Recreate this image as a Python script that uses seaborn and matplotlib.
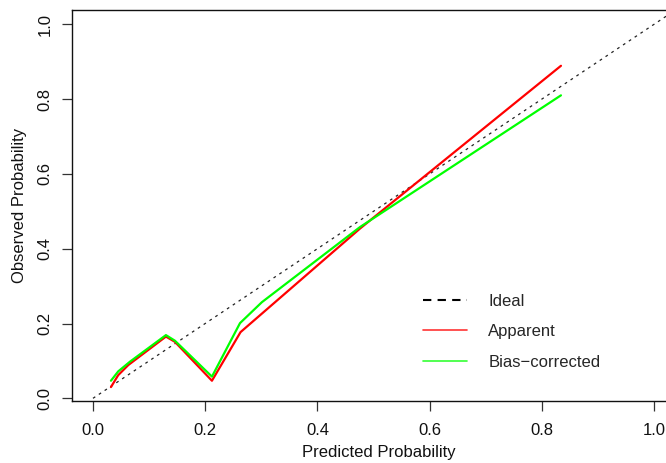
import matplotlib
matplotlib.use('Agg')
import matplotlib.pyplot as plt
from matplotlib.lines import Line2D
import pandas as pd
import seaborn as sns

# calibration curve values
pred_apparent = [0.032, 0.045, 0.063, 0.130, 0.146, 0.212, 0.263, 0.476, 0.834]
obs_apparent = [0.030, 0.062, 0.089, 0.165, 0.151, 0.047, 0.177, 0.454, 0.889]

pred_bias = [0.032, 0.045, 0.066, 0.130, 0.146, 0.212, 0.262, 0.301, 0.422, 0.476, 0.834]
obs_bias = [0.047, 0.072, 0.098, 0.169, 0.154, 0.058, 0.201, 0.257, 0.396, 0.458, 0.810]

ideal = [0.0, 1.1]
ticks = [0.0, 0.2, 0.4, 0.6, 0.8, 1.0]
tick_labels = ['0.0', '0.2', '0.4', '0.6', '0.8', '1.0']
legend_labels = ['Ideal', 'Apparent', 'Bias\u2212corrected']

sns.set_style('ticks')
plt.rcParams['font.family'] = ['Liberation Sans', 'DejaVu Sans']

apparent_df = pd.DataFrame({'pred': pred_apparent, 'obs': obs_apparent})
bias_df = pd.DataFrame({'pred': pred_bias, 'obs': obs_bias})

fig = plt.figure(figsize=(6.66, 4.63), dpi=100)
ax = fig.add_axes([0.1081, 0.1339, 0.9069, 0.8439])

# ideal diagonal
ideal_line, = ax.plot(ideal, ideal, color='#222222', linewidth=0.9)
ideal_line.set_dashes((2.2, 3.4))

sns.lineplot(data=apparent_df, x='pred', y='obs', sort=False, estimator=None,
             color='#FF0000', linewidth=1.6, ax=ax)
sns.lineplot(data=bias_df, x='pred', y='obs', sort=False, estimator=None,
             color='#00FF00', linewidth=1.6, ax=ax)

ax.set_xlim(-0.0374, 1.039)
ax.set_ylim(-0.0072, 1.0374)

ax.set_xticks(ticks)
ax.set_xticklabels(tick_labels)
ax.set_yticks(ticks)
ax.set_yticklabels(tick_labels, rotation=90, va='center')
ax.tick_params(axis='both', length=7, width=0.9, color='#333333', labelsize=12, labelcolor='#111111')
ax.tick_params(axis='x', pad=8.5)
ax.tick_params(axis='y', pad=7)

for side in ['left', 'bottom', 'top', 'right']:
    ax.spines[side].set_visible(True)
    ax.spines[side].set_linewidth(1.0)
    ax.spines[side].set_color('#111111')

ax.set_xlabel('Predicted Probability', fontsize=12, color='#111111')
ax.set_ylabel('Observed Probability', fontsize=12, color='#111111')
ax.xaxis.set_label_coords(0.508, -0.112)
ax.yaxis.set_label_coords(-0.074, 0.5)

handles = [
    Line2D([0], [0], color='black', linewidth=1.5, dashes=(4.0, 3.0)),
    Line2D([0], [0], color='#FF3333', linewidth=1.2),
    Line2D([0], [0], color='#33FF33', linewidth=1.2),
]
ax.legend(handles, legend_labels, loc='upper left', bbox_to_anchor=(0.581, 0.275),
          frameon=False, fontsize=12, handlelength=2.63, handletextpad=1.3,
          labelspacing=0.93, borderpad=0, borderaxespad=0)

fig.savefig('out.png', dpi=100)
